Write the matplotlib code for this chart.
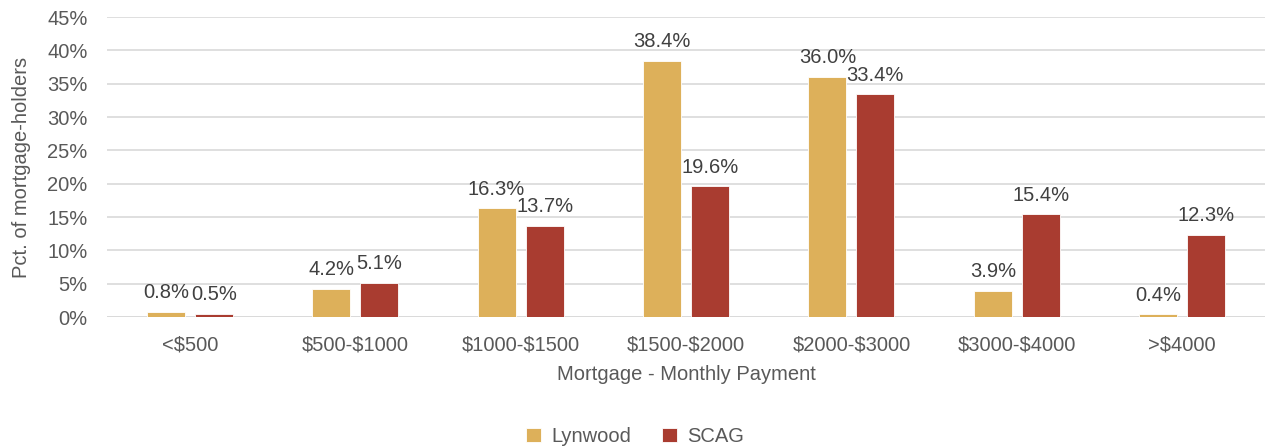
import numpy as np
import matplotlib.pyplot as plt

plt.rcParams['font.family'] = ['Liberation Sans', 'DejaVu Sans']

categories = ['<$500', '$500-$1000', '$1000-$1500', '$1500-$2000',
              '$2000-$3000', '$3000-$4000', '>$4000']
lynwood = [0.8, 4.2, 16.3, 38.4, 36.0, 3.9, 0.4]
scag = [0.5, 5.1, 13.7, 19.6, 33.4, 15.4, 12.3]

gold = '#DDB05A'
red = '#A93C30'

fig = plt.figure(figsize=(12.7, 4.48), dpi=100)
ax = fig.add_axes([0.0843, 0.2924, 0.9117, 0.6696])

x = np.arange(len(categories))
w = 0.23
off = 0.145
b1 = ax.bar(x - off, lynwood, w, color=gold, edgecolor='white', linewidth=0.6, label='Lynwood', zorder=3)
b2 = ax.bar(x + off, scag, w, color=red, edgecolor='white', linewidth=0.6, label='SCAG', zorder=3)

for bars, vals in ((b1, lynwood), (b2, scag)):
    for r, v in zip(bars, vals):
        ax.annotate(f'{v:.1f}%', (r.get_x() + r.get_width() / 2, v),
                    xytext=(0, 7), textcoords='offset points',
                    ha='center', va='bottom', fontsize=14.5, color='#404040')

ax.set_xlim(-0.5, len(categories) - 0.5)
ax.set_ylim(0, 45)
ax.set_yticks(np.arange(0, 46, 5))
ax.set_yticklabels([f'{t}%' for t in range(0, 46, 5)])
ax.set_xticks(x)
ax.set_xticklabels([c.replace('$', r'\$') for c in categories])
ax.tick_params(axis='both', length=0, labelsize=14.5, labelcolor='#595959')
ax.tick_params(axis='y', pad=14)
ax.tick_params(axis='x', pad=13)
ax.grid(axis='y', color='#D9D9D9', linewidth=1.2, zorder=0)
for s in ax.spines.values():
    s.set_visible(False)
ax.axhline(0, color='#D9D9D9', linewidth=1.2, zorder=1)

ax.set_xlabel('Mortgage - Monthly Payment', fontsize=14.5, color='#595959', labelpad=8)
ax.set_ylabel('Pct. of mortgage-holders', fontsize=14.5, color='#595959', labelpad=12)

fig.legend(loc='lower center', bbox_to_anchor=(0.5, -0.036), ncol=2, frameon=False,
           fontsize=14.5, labelcolor='#595959', handlelength=0.75, handleheight=0.75,
           handletextpad=0.5, columnspacing=1.5)

fig.savefig('out.png', dpi=100)
